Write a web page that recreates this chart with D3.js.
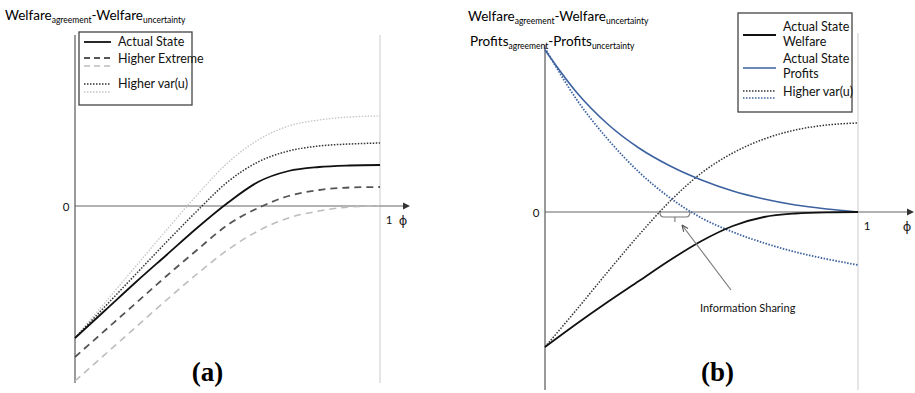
<!DOCTYPE html>
<html>
<head>
<meta charset="utf-8">
<script src="https://cdn.jsdelivr.net/npm/d3@7"></script>
<style>
  body { margin: 0; background: #fff; }
  svg { display: block; font-family: Lato, "Open Sans", "Liberation Sans", sans-serif; }
</style>
</head>
<body>
<svg id="chart" width="915" height="393"></svg>
<script>
// phi grid shared by every curve
const phi = [0, 0.1, 0.2, 0.3, 0.4, 0.5, 0.6, 0.7, 0.8, 0.9, 1];

// panel (a): welfare differences
const aActual = [-13.2, -10.4, -7.6, -4.9, -2.2, 0.3, 2.4, 3.5, 3.9, 4.05, 4.1];
const aExtremeDark = [-15.1, -12.4, -9.7, -7.0, -4.4, -1.9, -0.2, 1.0, 1.6, 1.85, 1.9];
const aExtremeLight = [-17.5, -14.8, -12.1, -9.4, -6.8, -4.4, -2.5, -1.2, -0.5, -0.1, 0];
const aVarDark = [-13.2, -10.0, -6.8, -3.6, -0.5, 2.4, 4.4, 5.5, 6.0, 6.2, 6.3];
const aVarLight = [-13.2, -9.6, -6.0, -2.4, 1.1, 4.3, 6.6, 8.0, 8.6, 8.9, 9.0];

// panel (b): welfare and profit differences
const bWelfare = [-13.5, -11.2, -9.0, -6.9, -4.8, -2.9, -1.4, -0.5, -0.15, -0.03, 0];
const bProfits = [16.2, 12.0, 8.8, 6.4, 4.6, 3.2, 2.1, 1.3, 0.7, 0.3, 0];
const bWelfareVar = [-13.5, -9.8, -6.0, -2.3, 1.1, 3.9, 5.9, 7.3, 8.2, 8.7, 8.9];
const bProfitsVar = [16.4, 11.3, 7.3, 4.0, 1.4, -0.6, -2.0, -3.1, -4.0, -4.7, -5.3];

const infoSharing = [0.367, 0.463]; // phi range of the bracket

const svg = d3.select("#chart");
const blue = "#3d62a0";

function drawPanel(cfg) {
  const x = d3.scaleLinear().domain([0, 1]).range(cfg.xr);
  const y = d3.scaleLinear().domain(cfg.yd).range(cfg.yr);
  const g = svg.append("g");

  // phi = 1 guide
  g.append("line")
    .attr("x1", x(1)).attr("x2", x(1))
    .attr("y1", cfg.guideTop).attr("y2", cfg.yr[0])
    .attr("stroke", "#d4d4d4").attr("stroke-width", 1.2);

  // vertical axis
  g.append("line")
    .attr("x1", x(0)).attr("x2", x(0))
    .attr("y1", cfg.yr[1]).attr("y2", cfg.yr[0])
    .attr("stroke", "#9a9a9a").attr("stroke-width", 2);

  // horizontal axis with arrow
  g.append("line")
    .attr("x1", x(0)).attr("x2", cfg.arrowX - 5)
    .attr("y1", y(0)).attr("y2", y(0))
    .attr("stroke", "#666").attr("stroke-width", 1.2);
  g.append("path")
    .attr("d", `M${cfg.arrowX},${y(0)} l-7,-3.5 l0,7 z`)
    .attr("fill", "#333");

  g.append("text").attr("x", x(0) - 9).attr("y", y(0) + 5)
    .attr("text-anchor", "middle").attr("font-size", 11.5).attr("fill", "#111").text("0");
  g.append("text").attr("x", x(1) + 9).attr("y", y(0) + 18)
    .attr("text-anchor", "middle").attr("font-size", 11.5).attr("fill", "#111").text("1");
  g.append("text").attr("x", cfg.arrowX - 7).attr("y", y(0) + 19)
    .attr("text-anchor", "middle").attr("font-size", 13)
    .attr("font-family", "'DejaVu Sans', sans-serif").attr("fill", "#222").text("ϕ");

  const line = d3.line()
    .x((d, i) => x(phi[i]))
    .y(d => y(d))
    .curve(d3.curveMonotoneX);

  cfg.series.forEach(s => {
    g.append("path")
      .attr("d", line(s.values))
      .attr("fill", "none")
      .attr("stroke", s.color)
      .attr("stroke-width", s.width || 1.6)
      .attr("stroke-dasharray", s.dash || null);
  });

  g.append("text")
    .attr("x", (x(0) + x(1)) / 2 - cfg.labelShift).attr("y", 381)
    .attr("text-anchor", "middle")
    .attr("font-family", "'Liberation Serif', 'DejaVu Serif', serif")
    .attr("font-weight", "bold").attr("font-size", 27)
    .text(cfg.label);

  return { g, x, y };
}

function title(x0, y0, main, a, b) {
  const t = svg.append("text").attr("x", x0).attr("y", y0).attr("font-size", 13.5).attr("fill", "#000");
  t.append("tspan").text(main);
  t.append("tspan").attr("font-size", 8.5).attr("dy", 3).text(a);
  t.append("tspan").attr("dy", -3).text("-" + main);
  t.append("tspan").attr("font-size", 8.5).attr("dy", 3).text(b);
}

function legend(x0, y0, w, h, lx, items) {
  const g = svg.append("g");
  g.append("rect").attr("x", x0).attr("y", y0).attr("width", w).attr("height", h)
    .attr("fill", "#fff").attr("stroke", "#444").attr("stroke-width", 1.3);
  items.forEach(it => {
    it.lines.forEach(l => {
      g.append("line")
        .attr("x1", x0 + 5).attr("x2", x0 + lx)
        .attr("y1", l.y).attr("y2", l.y)
        .attr("stroke", l.color).attr("stroke-width", l.width || 1.6)
        .attr("stroke-dasharray", l.dash || null);
    });
    it.text.forEach((tx, k) => {
      g.append("text").attr("x", x0 + lx + 7).attr("y", it.ty + k * 15)
        .attr("font-size", 12.5).attr("fill", "#111").text(tx);
    });
  });
}

// ---------- panel (a)
drawPanel({
  xr: [75, 380], yd: [-17.7, 17.1], yr: [383, 35],
  guideTop: 35, arrowX: 410, label: "(a)", labelShift: 20,
  series: [
    { values: aExtremeLight, color: "#bdbdbd", dash: "7,5" },
    { values: aVarLight, color: "#c4c4c4", dash: "1.5,1.5", width: 1.3 },
    { values: aVarDark, color: "#333", dash: "1.5,1.5", width: 1.5 },
    { values: aExtremeDark, color: "#555", dash: "7,5", width: 1.8 },
    { values: aActual, color: "#111", width: 1.8 }
  ]
});
title(5, 20, "Welfare", "agreement", "uncertainty");
legend(79, 32, 113, 73, 32, [
  { lines: [{ y: 42, color: "#111", width: 1.8 }], text: ["Actual State"], ty: 46 },
  { lines: [{ y: 58, color: "#555", dash: "6,4", width: 1.8 }, { y: 66, color: "#bdbdbd", dash: "6,4" }], text: ["Higher Extreme"], ty: 63 },
  { lines: [{ y: 84, color: "#333", dash: "1.5,1.5", width: 1.3 }, { y: 92, color: "#c4c4c4", dash: "1.5,1.5", width: 1.3 }], text: ["Higher var(u)"], ty: 88 }
]);

// ---------- panel (b)
const pb = drawPanel({
  xr: [545, 858], yd: [-17.8, 16.7], yr: [390, 45],
  guideTop: 33, arrowX: 914, label: "(b)", labelShift: -16,
  series: [
    { values: bWelfareVar, color: "#333", dash: "1.5,1.5", width: 1.5 },
    { values: bProfitsVar, color: blue, dash: "1.5,1.5", width: 1.8 },
    { values: bProfits, color: blue, width: 1.6 },
    { values: bWelfare, color: "#111", width: 1.8 }
  ]
});
title(468, 21, "Welfare", "agreement", "uncertainty");
title(470, 46, "Profits", "agreement", "uncertainty");
legend(738, 13, 114, 99, 38, [
  { lines: [{ y: 35, color: "#111", width: 1.8 }], text: ["Actual State", "Welfare"], ty: 31 },
  { lines: [{ y: 68, color: blue, width: 1.6 }], text: ["Actual State", "Profits"], ty: 63 },
  { lines: [{ y: 91, color: "#333", dash: "1.5,1.5", width: 1.3 }, { y: 98, color: blue, dash: "1.5,1.5", width: 1.3 }], text: ["Higher var(u)"], ty: 96 }
]);

// information sharing bracket and pointer
const bx0 = pb.x(infoSharing[0]), bx1 = pb.x(infoSharing[1]), by = pb.y(0);
const bm = (bx0 + bx1) / 2;
pb.g.append("path")
  .attr("d", `M${bx0},${by} Q${bx0},${by + 5} ${bx0 + 4},${by + 5} L${bx1 - 4},${by + 5} Q${bx1},${by + 5} ${bx1},${by} M${bm},${by + 5} L${bm},${by + 10}`)
  .attr("fill", "none").attr("stroke", "#777").attr("stroke-width", 1.1);
const ax0 = 731, ay0 = 290, ax1 = 682, ay1 = 225;
pb.g.append("line").attr("x1", ax0).attr("y1", ay0).attr("x2", ax1).attr("y2", ay1)
  .attr("stroke", "#777").attr("stroke-width", 1.1);
const ang = Math.atan2(ay1 - ay0, ax1 - ax0);
const ah = 7;
pb.g.append("path")
  .attr("d", `M${ax1},${ay1} L${ax1 - ah * Math.cos(ang - 0.4)},${ay1 - ah * Math.sin(ang - 0.4)} M${ax1},${ay1} L${ax1 - ah * Math.cos(ang + 0.4)},${ay1 - ah * Math.sin(ang + 0.4)}`)
  .attr("fill", "none").attr("stroke", "#555").attr("stroke-width", 1.1);
pb.g.append("text").attr("x", 700).attr("y", 312).attr("font-size", 11).attr("fill", "#111")
  .text("Information Sharing");
</script>
</body>
</html>
